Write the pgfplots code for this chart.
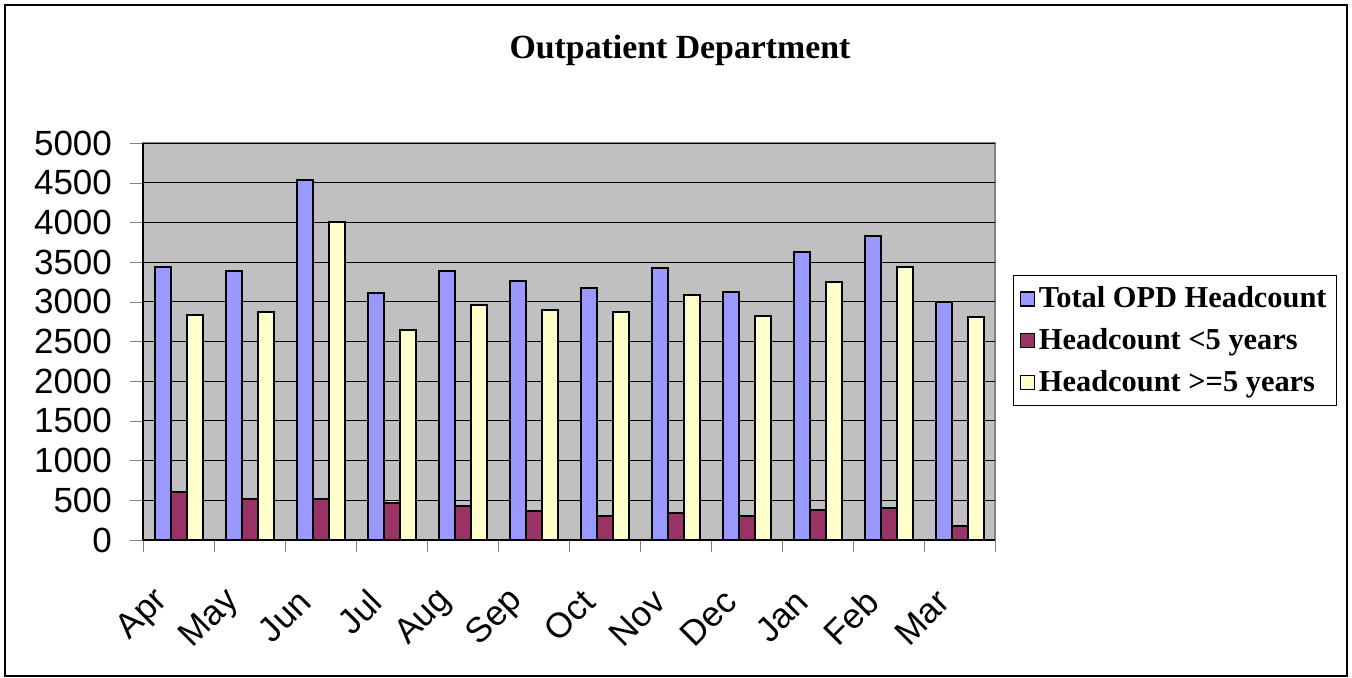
\documentclass[border=0pt]{standalone}
\usepackage{fontspec}
\setmainfont{Liberation Serif}
\newfontfamily\arialfont{Liberation Sans}
\usepackage{pgfplots}
\usepackage{pgfplotstable}
\pgfplotsset{compat=1.18}

\definecolor{opdblue}{HTML}{9999FF}
\definecolor{opdred}{HTML}{993366}
\definecolor{opdyellow}{HTML}{FFFFCC}
\definecolor{plotbg}{HTML}{C0C0C0}
\definecolor{plotframe}{HTML}{808080}

% month index, total OPD, under 5, 5 and over
\pgfplotstableread{
m  total under over
0  3443  610   2833
1  3392  513   2866
2  4529  522   3999
3  3115  463   2647
4  3392  434   2955
5  3266  370   2896
6  3174  299   2875
7  3426  337   3085
8  3123  299   2820
9  3632  375   3254
10 3834  400   3435
11 2997  181   2807
}\opd

\begin{document}
\begin{tikzpicture}
\path (0,0) rectangle (676pt,338.5pt);
\draw[black, line width=0.75pt] (2.5pt,0.4pt) rectangle (673.5pt,336pt);
\node[font=\bfseries\fontsize{16.9}{19}\selectfont] at (340pt,313.5pt) {Outpatient Department};
\begin{axis}[
  at={(71.5pt,68.5pt)}, anchor=south west,
  scale only axis, width=426pt, height=198.5pt,
  ybar=0pt, bar width=8pt,
  xmin=-0.5, xmax=11.5, ymin=0, ymax=5000,
  axis x line*=bottom, axis y line*=left,
  axis line style={black, line width=0.6pt},
  axis background/.style={fill=plotbg, draw=plotframe, line width=1pt},
  tick align=outside,
  xtick={0,...,11},
  xticklabels={Apr,May,Jun,Jul,Aug,Sep,Oct,Nov,Dec,Jan,Feb,Mar},
  major x tick style={draw=none},
  minor xtick={-0.5,0.5,...,11.5},
  minor tick length=6pt,
  major tick length=6.5pt,
  ytick={0,500,...,5000},
  scaled y ticks=false,
  ymajorgrids,
  grid style={black, line width=0.5pt},
  /pgf/number format/assume math mode=true,
  /pgf/number format/1000 sep={},
  yticklabel style={font=\arialfont\fontsize{17.5}{20}\selectfont, xshift=-5.5pt},
  xticklabel style={font=\arialfont\fontsize{17.5}{20}\selectfont, anchor=east, xshift=-5.5pt, yshift=-19pt, rotate=45},
  every axis plot/.append style={draw=black, line width=1pt},
  area legend,
  legend image code/.code={\draw[#1, line width=0.7pt] (0pt,-3.5pt) rectangle (7pt,3.5pt);},
  legend cell align=left,
  legend style={at={(1.021,0.5025)}, anchor=west, draw=black, line width=0.6pt,
    font=\bfseries\fontsize{15.2}{18}\selectfont, row sep=4.8pt,
    inner xsep=3pt, inner ysep=3.5pt},
]
\addplot[fill=opdblue] table[x=m, y=total] {\opd};
\addplot[fill=opdred] table[x=m, y=under] {\opd};
\addplot[fill=opdyellow] table[x=m, y=over] {\opd};
\legend{Total OPD Headcount, Headcount <5 years, Headcount >=5 years}
\end{axis}
\end{tikzpicture}
\end{document}
